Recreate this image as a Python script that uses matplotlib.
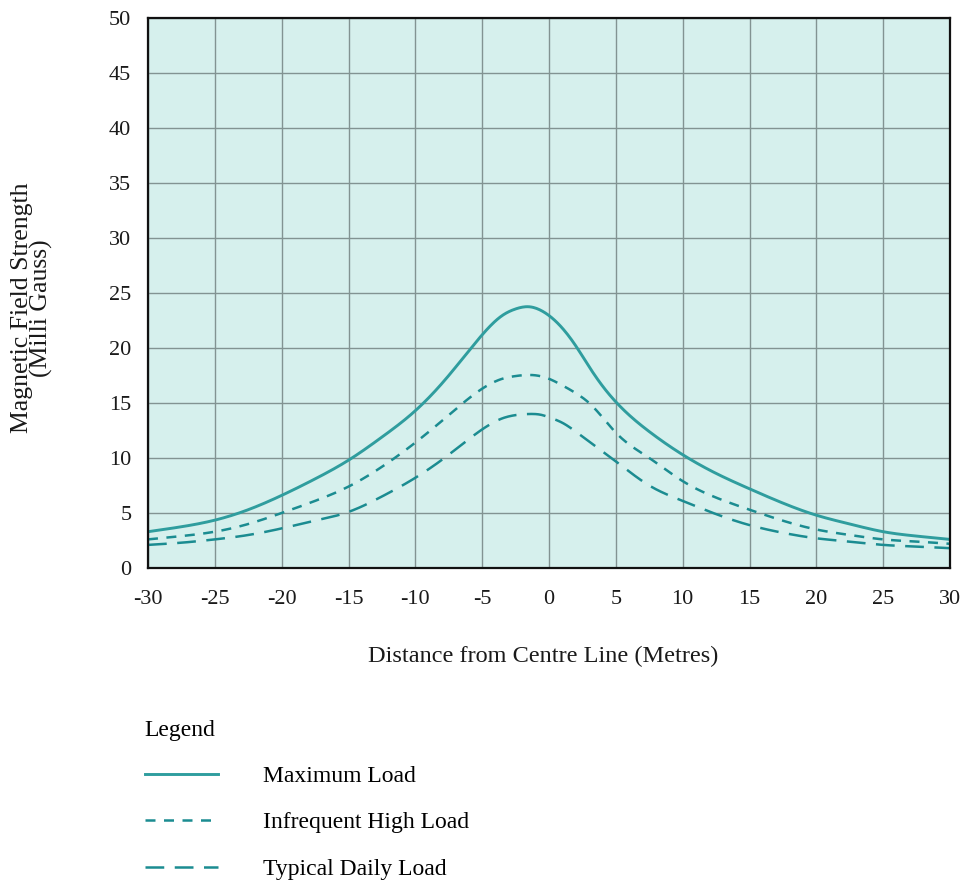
import matplotlib
matplotlib.use("Agg")
import matplotlib.pyplot as plt
import numpy as np

plt.rcParams['font.family'] = ['Liberation Serif', 'DejaVu Serif']
plt.rcParams['axes.unicode_minus'] = False

# Distance from centre line (m)
distance = [-30, -27.5, -25, -22.5, -20, -17.5, -15, -12.5, -10, -7.5, -5, -3.5, -2.5, -1.5, -0.5, 0, 1, 2, 3, 4, 5,
            7.5, 10, 12.5, 15, 17.5, 20, 22.5, 25, 27.5, 30]

# Magnetic field strength (mG) for each load case
maximum_load = [3.3, 3.75, 4.35, 5.3, 6.6, 8.1, 9.8, 11.9, 14.3, 17.5, 21.2, 22.95, 23.55, 23.75, 23.35, 22.95, 21.8, 20.2, 18.3,
                16.55, 15.1, 12.4, 10.3, 8.6, 7.2, 5.9, 4.8, 4.0, 3.3, 2.9, 2.6]
infrequent_high = [2.6, 2.9, 3.3, 4.0, 5.0, 6.1, 7.4, 9.2, 11.4, 13.9, 16.3, 17.2, 17.45, 17.55, 17.4, 17.2, 16.6, 15.9, 15.0,
                   13.7, 12.3, 10.0, 7.9, 6.4, 5.3, 4.3, 3.5, 3.0, 2.6, 2.4, 2.2]
typical_daily = [2.1, 2.3, 2.6, 3.0, 3.6, 4.3, 5.1, 6.5, 8.2, 10.3, 12.6, 13.6, 13.9, 14.0, 13.9, 13.7, 13.2, 12.4, 11.5,
                 10.6, 9.7, 7.5, 6.1, 4.9, 3.9, 3.2, 2.7, 2.4, 2.1, 1.95, 1.8]

x_ticks = list(range(-30, 31, 5))
y_ticks = list(range(0, 51, 5))

line_col = '#2f9d9e'
dash_col = '#1b8c91'
bg_col = '#d6f0ed'
grid_col = '#829392'
text_col = '#1a1a1a'


def natural_spline(xd, yd, xs):
    """Natural cubic spline through (xd, yd), evaluated at xs."""
    xd = np.asarray(xd, float)
    yd = np.asarray(yd, float)
    n = len(xd)
    h = np.diff(xd)
    A = np.zeros((n, n))
    r = np.zeros(n)
    A[0, 0] = A[-1, -1] = 1.0
    for i in range(1, n - 1):
        A[i, i - 1] = h[i - 1]
        A[i, i] = 2 * (h[i - 1] + h[i])
        A[i, i + 1] = h[i]
        r[i] = 6 * ((yd[i + 1] - yd[i]) / h[i] - (yd[i] - yd[i - 1]) / h[i - 1])
    M = np.linalg.solve(A, r)
    k = np.clip(np.searchsorted(xd, xs) - 1, 0, n - 2)
    hk = h[k]
    a = xd[k + 1] - xs
    b = xs - xd[k]
    return (M[k] * a**3 / (6 * hk) + M[k + 1] * b**3 / (6 * hk)
            + (yd[k] / hk - M[k] * hk / 6) * a + (yd[k + 1] / hk - M[k + 1] * hk / 6) * b)


fig = plt.figure(figsize=(9.65, 8.84), dpi=100)
ax = fig.add_axes([148/965, 1 - 568/884, 802/965, 550/884])
ax.set_facecolor(bg_col)

xs = np.linspace(-30, 30, 800)
l1, = ax.plot(xs, natural_spline(distance, maximum_load, xs), color=line_col, lw=2.1, label='Maximum Load')
l2, = ax.plot(xs, natural_spline(distance, infrequent_high, xs), color=dash_col, lw=1.8,
              dashes=(4.0, 3.4), label='Infrequent High Load')
l3, = ax.plot(xs, natural_spline(distance, typical_daily, xs), color=dash_col, lw=1.8,
              dashes=(7.5, 4.2), label='Typical Daily Load')

ax.set_xlim(-30, 30)
ax.set_ylim(0, 50)
ax.set_xticks(x_ticks)
ax.set_yticks(y_ticks)
ax.grid(True, color=grid_col, lw=1.0)
ax.set_axisbelow(True)
ax.tick_params(axis='both', length=0, labelsize=16, colors=text_col)
ax.tick_params(axis='x', pad=16)
ax.tick_params(axis='y', pad=12)
for s in ax.spines.values():
    s.set_color('#111111')
    s.set_linewidth(1.6)

ax.set_xlabel('Distance from Centre Line (Metres)', fontsize=17.5, color=text_col)
ax.xaxis.set_label_coords((543 - 148) / 802, -(646 - 568) / 550)
fig.text(32/965, 1 - 308/884, 'Magnetic Field Strength\n(Milli Gauss)', rotation=90,
         ha='center', va='center', multialignment='center', fontsize=18.5,
         color=text_col, linespacing=0.82)

leg = fig.legend(handles=[l1, l2, l3], loc='upper left',
                 bbox_to_anchor=(133/965, 1 - 708/884), frameon=False, borderpad=0,
                 title='Legend', alignment='left', fontsize=17, title_fontsize=17,
                 handlelength=3.1, handletextpad=1.9, labelspacing=1.05)

fig.savefig('out.png', dpi=100)
